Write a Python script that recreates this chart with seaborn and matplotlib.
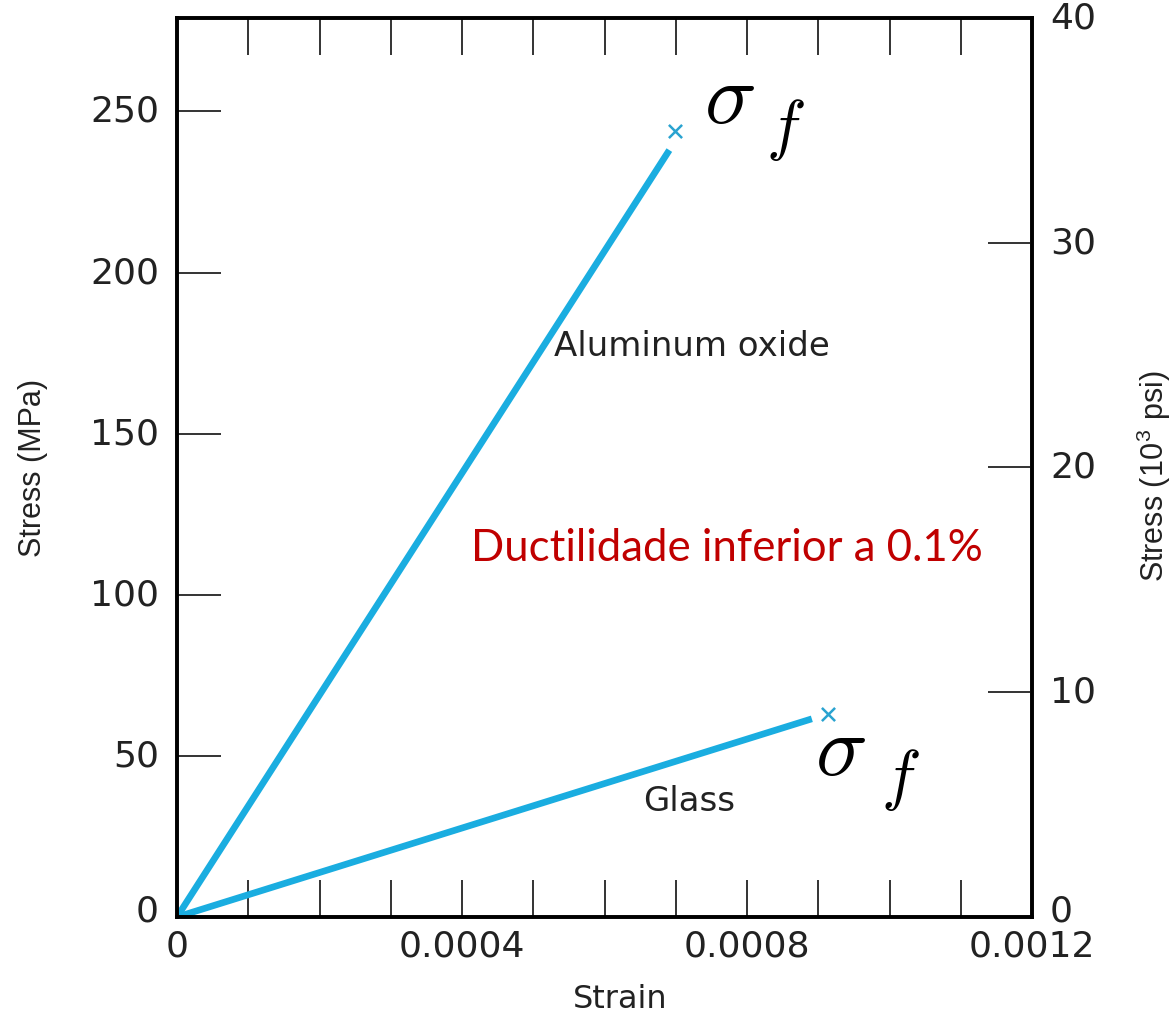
import matplotlib
matplotlib.use('Agg')
import matplotlib.pyplot as plt
import matplotlib.transforms as mtransforms
import seaborn as sns
import pandas as pd

# ---- data ----
materials = ['Aluminum oxide', 'Glass']
al_strain = [0.0, 0.000691]
al_stress = [0.0, 238.0]
glass_strain = [0.0, 0.000891]
glass_stress = [0.0, 61.5]
fracture_strain = [0.000699, 0.000914]
fracture_stress = [244.0, 63.0]

x_ticks = [0.0, 0.0001, 0.0002, 0.0003, 0.0004, 0.0005, 0.0006,
           0.0007, 0.0008, 0.0009, 0.0010, 0.0011, 0.0012]
x_tick_labels = ['0', '', '', '', '0.0004', '', '', '', '0.0008', '', '', '', '0.0012']
y_mpa_ticks = [0, 50, 100, 150, 200, 250]
y_ksi_ticks = [0, 10, 20, 30, 40]

df = pd.DataFrame({
    'strain': al_strain + glass_strain,
    'stress': al_stress + glass_stress,
    'material': [materials[0]] * len(al_strain) + [materials[1]] * len(glass_strain),
})

sns.set_theme(style='white')
plt.rcParams['font.family'] = ['DejaVu Sans']
plt.rcParams['mathtext.fontset'] = 'cm'

LINE = '#1AADE0'
MARK = '#2AA3D0'
TXT = '#222222'

fig = plt.figure(figsize=(11.76, 10.17), dpi=100)
ax = fig.add_axes([177 / 1176, 1 - 917 / 1017, (1032 - 177) / 1176, (917 - 18) / 1017])

sns.lineplot(data=df, x='strain', y='stress', hue='material',
             palette=[LINE, LINE], legend=False, linewidth=4.8,
             solid_capstyle='butt', ax=ax)
sns.scatterplot(x=fracture_strain, y=fracture_stress, marker='x', s=90,
                color=MARK, linewidth=1.8, ax=ax, zorder=5)

ax.set_xlim(0, 0.0012)
ax.set_ylim(0, 279)
ax.set_xticks(x_ticks)
ax.set_xticklabels(x_tick_labels)
ax.set_yticks(y_mpa_ticks)
ax.set_yticklabels([str(v) for v in y_mpa_ticks])
ax.tick_params(axis='x', direction='in', length=26.5, width=1.4, color='#333333',
               top=True, bottom=True, labelsize=26, labelcolor=TXT, pad=9)
ax.tick_params(axis='y', direction='in', length=32, width=1.4, color='#333333',
               left=True, right=False, labelsize=26, labelcolor=TXT, pad=13)
for s in ax.spines.values():
    s.set_linewidth(2.6)
    s.set_color('black')

ax2 = ax.twinx()
ax2.set_ylim(0, 40)
ax2.set_yticks(y_ksi_ticks)
ax2.set_yticklabels([str(v) for v in y_ksi_ticks])
ax2.tick_params(axis='y', direction='in', length=32, width=1.4, color='#333333',
                labelsize=26, labelcolor=TXT, pad=13)
for s in ax2.spines.values():
    s.set_linewidth(2.6)
    s.set_color('black')
ax2.grid(False)
ax.grid(False)

ax.set_xlabel('Strain', fontsize=23, color=TXT)
ax.xaxis.set_label_coords((620 - 177) / 855, (917 - 1000) / 899)
ax.xaxis.label.set_va('center')
ax.set_ylabel('Stress (MPa)', fontsize=22, color=TXT, family=['Liberation Sans'])
ax.yaxis.set_label_coords((33 - 177) / 855, (917 - 468) / 899)
ax.yaxis.label.set_va('center')
ax2.set_ylabel(r'Stress (10$^{\mathregular{3}}$ psi)', fontsize=22, color=TXT,
               family=['Liberation Sans'])
ax2.yaxis.set_label_coords((1154 - 177) / 855, (917 - 476) / 899)
ax2.yaxis.label.set_va('center')

# annotations
ax.text(0.000723, 177, 'Aluminum oxide', fontsize=24.5, color=TXT, ha='center', va='center')
ax.text(0.000719, 35.7, 'Glass', fontsize=24.5, color=TXT, ha='center', va='center')
ax.text(0.000772, 110.5, 'Ductilidade inferior a 0.1%', fontsize=31.5, color='#C00000',
        ha='center', va='baseline', family=['Lato', 'DejaVu Sans'])
# fracture strength symbols (sigma with subscript f)
ax.text(0.000740, 246.4, r'$\sigma$', fontsize=62, color='black', ha='left', va='baseline')
ax.text(0.000826, 239.0, r'$f$', fontsize=48, color='black', ha='left', va='baseline')
ax.text(0.000895, 44.0, r'$\sigma$', fontsize=62, color='black', ha='left', va='baseline')
ax.text(0.000988, 37.2, r'$f$', fontsize=48, color='black', ha='left', va='baseline')

# nudge the y tick labels upward, as in the reference (the zero labels sit above the spine)
fig.canvas.draw()
small = mtransforms.ScaledTranslation(0, 3 / 100, fig.dpi_scale_trans)
big = mtransforms.ScaledTranslation(0, 9 / 100, fig.dpi_scale_trans)
for lab in ax.get_yticklabels() + ax2.get_yticklabels():
    lab.set_transform(lab.get_transform() + (big if lab.get_text() == '0' else small))

fig.savefig('out.png', dpi=100)
